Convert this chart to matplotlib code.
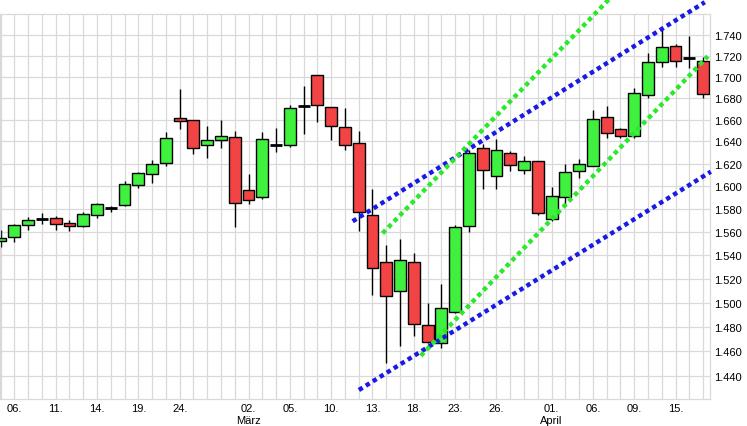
import numpy as np
import pandas as pd
import matplotlib
matplotlib.use("Agg")
import matplotlib.pyplot as plt
from matplotlib.ticker import NullLocator, FixedLocator, FixedFormatter

plt.rcParams['font.family'] = ['Liberation Sans', 'DejaVu Sans']

# trading days (Feb 5 .. Apr 17, Good Friday closed)
dates = pd.bdate_range('2020-02-05', '2020-04-17')
dates = dates[dates != pd.Timestamp('2020-04-10')]

opens = [1.5518, 1.5553, 1.5657, 1.5714, 1.5717, 1.5674, 1.5653, 1.5749, 1.5810, 1.5831,
         1.6007, 1.6105, 1.6203, 1.6613, 1.6595, 1.6366, 1.6411, 1.6440, 1.5963, 1.5901,
         1.6369, 1.6366, 1.6729, 1.7016, 1.6714, 1.6530, 1.6384, 1.5749, 1.5339, 1.5094,
         1.5339, 1.4812, 1.4666, 1.4919, 1.5648, 1.6339, 1.6093, 1.6294, 1.6146, 1.6222,
         1.5711, 1.5907, 1.6132, 1.6182, 1.6622, 1.6515, 1.6448, 1.6828, 1.7137, 1.7289,
         1.7174, 1.7151]
highs = [1.5616, 1.5668, 1.5729, 1.5764, 1.5740, 1.5703, 1.5775, 1.5851, 1.5827, 1.6045,
         1.6123, 1.6233, 1.6490, 1.6885, 1.6597, 1.6545, 1.6597, 1.6499, 1.6110, 1.6490,
         1.6523, 1.6735, 1.6910, 1.7016, 1.6717, 1.6705, 1.6495, 1.5975, 1.5486, 1.5536,
         1.5418, 1.4997, 1.5156, 1.5659, 1.6323, 1.6375, 1.6423, 1.6317, 1.6272, 1.6227,
         1.5989, 1.6197, 1.6242, 1.6692, 1.6723, 1.6520, 1.6894, 1.7225, 1.7461, 1.7311,
         1.7388, 1.7188]
lows = [1.5472, 1.5515, 1.5618, 1.5670, 1.5618, 1.5609, 1.5642, 1.5720, 1.5775, 1.5825,
        1.5983, 1.6030, 1.6182, 1.6515, 1.6287, 1.6254, 1.6344, 1.5644, 1.5842, 1.5887,
        1.6308, 1.6348, 1.6472, 1.6582, 1.6416, 1.6326, 1.5610, 1.5066, 1.4507, 1.4646,
        1.4727, 1.4667, 1.4625, 1.4914, 1.5596, 1.5971, 1.5971, 1.6137, 1.6107, 1.5749,
        1.5690, 1.5827, 1.6069, 1.6175, 1.6429, 1.6429, 1.6429, 1.6803, 1.7095, 1.7090,
        1.7080, 1.6800]
closes = [1.5544, 1.5657, 1.5703, 1.5714, 1.5665, 1.5648, 1.5752, 1.5842, 1.5810, 1.6016,
          1.6114, 1.6197, 1.6429, 1.6585, 1.6339, 1.6411, 1.6448, 1.5848, 1.5875, 1.6420,
          1.6369, 1.6705, 1.6729, 1.6733, 1.6539, 1.6366, 1.5770, 1.5288, 1.5053, 1.5356,
          1.4821, 1.4674, 1.4958, 1.5639, 1.6294, 1.6146, 1.6324, 1.6191, 1.6222, 1.5761,
          1.5910, 1.6122, 1.6195, 1.6606, 1.6477, 1.6448, 1.6847, 1.7137, 1.7279, 1.7151,
          1.7174, 1.6834]

tick_dates = ['2020-02-06', '2020-02-11', '2020-02-14', '2020-02-19', '2020-02-24',
              '2020-03-02', '2020-03-05', '2020-03-10', '2020-03-13', '2020-03-18',
              '2020-03-23', '2020-03-26', '2020-04-01', '2020-04-06', '2020-04-09',
              '2020-04-15']
tick_labels = ['06.', '11.', '14.', '19.', '24.', '02.\nMärz', '05.', '10.', '13.', '18.',
               '23.', '26.', '01.\nApril', '06.', '09.', '15.']

y_ticks = [1.44, 1.46, 1.48, 1.50, 1.52, 1.54, 1.56, 1.58, 1.60, 1.62, 1.64, 1.66,
           1.68, 1.70, 1.72, 1.74]

# trend channels: (date index, value) endpoints
blue_upper = [(25.56, 1.5691), (51.12, 1.7715)]
blue_lower = [(26.01, 1.4291), (51.56, 1.6128)]
green_upper = [(27.73, 1.5587), (51.5, 1.880)]
green_lower = [(30.51, 1.4565), (51.34, 1.7193)]

UP = '#3ff03f'
DOWN = '#f24444'
BLUE = '#1a1ae8'
GREEN = '#2ce82c'
GRID = '#d9d9d9'

fig = plt.figure(figsize=(7.47, 4.27), dpi=100)
ax = fig.add_axes([0, 27 / 427, 710 / 747, 385 / 427])
ax.set_yscale('log')

x = np.arange(len(dates))
o = np.array(opens); h = np.array(highs); l = np.array(lows); c = np.array(closes)

ax.vlines(x, l, h, color='black', lw=1.0, zorder=2)
for xi, oi, ci in zip(x, o, c):
    if abs(ci - oi) < 1e-6:
        ax.hlines(ci, xi - 0.44, xi + 0.44, color='black', lw=2.0, zorder=3)
    else:
        col = UP if ci > oi else DOWN
        ax.bar(xi, abs(ci - oi), bottom=min(oi, ci), width=0.86, color=col,
               edgecolor='black', linewidth=1.0, zorder=3)

for pts, col in [(blue_upper, BLUE), (blue_lower, BLUE), (green_upper, GREEN), (green_lower, GREEN)]:
    xs = [p[0] for p in pts]; ys = [p[1] for p in pts]
    ax.plot(xs, ys, color=col, lw=3.2, linestyle=(0, (1.0, 0.85)), clip_on=False, zorder=5)

ax.set_xlim(-0.04, 51.5)
ax.set_ylim(1.422, 1.760)

tick_pos = dates.get_indexer(pd.to_datetime(tick_dates))
ax.xaxis.set_major_locator(FixedLocator(tick_pos))
ax.xaxis.set_major_formatter(FixedFormatter(tick_labels))
ax.xaxis.set_minor_locator(FixedLocator(x))

ax.yaxis.set_major_locator(FixedLocator(y_ticks))
ax.yaxis.set_major_formatter(FixedFormatter([f"{v:.3f}" for v in y_ticks]))
ax.yaxis.set_minor_locator(NullLocator())
ax.yaxis.tick_right()

ax.grid(True, which='both', axis='x', color=GRID, lw=0.9, zorder=0)
ax.grid(True, which='major', axis='y', color=GRID, lw=0.9, zorder=0)
ax.set_axisbelow(True)

ax.tick_params(axis='both', which='both', length=0, labelsize=8, colors='black')
ax.tick_params(axis='x', pad=3)
ax.tick_params(axis='y', pad=3)
for lab in ax.get_xticklabels():
    lab.set_linespacing(1.2)
for s in ax.spines.values():
    s.set_color(GRID)
    s.set_linewidth(0.9)

fig.savefig('out.png', dpi=100)
